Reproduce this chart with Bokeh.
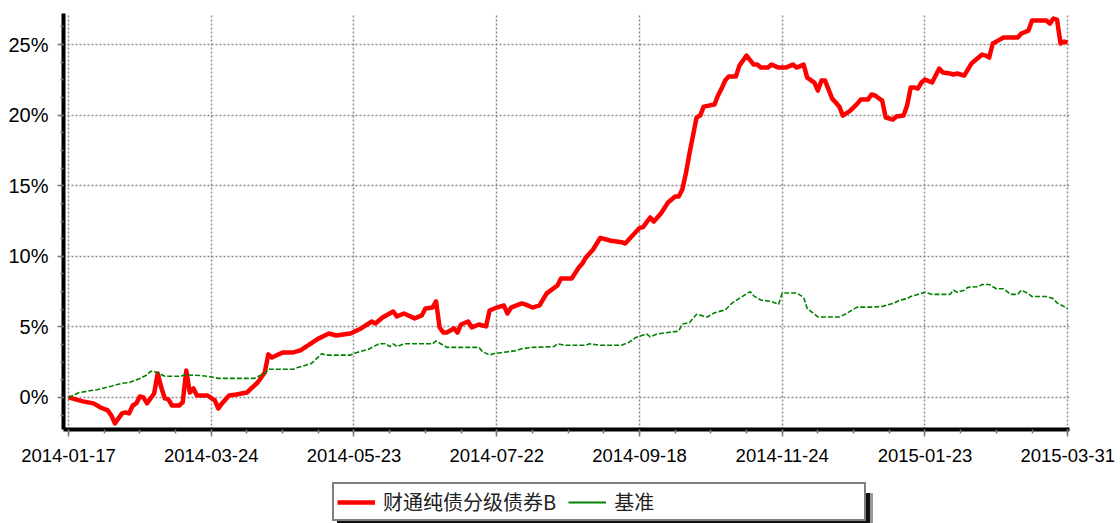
from bokeh.plotting import figure
from bokeh.models import (Range1d, FixedTicker, PrintfTickFormatter, Legend,
                          LegendItem)
from bokeh.layouts import column
from bokeh.embed import file_html
from bokeh.resources import INLINE

# ---------------- data ----------------
tick_days = [0, 40, 80, 120, 160, 200, 240, 280]
tick_dates = ["2014-01-17", "2014-03-24", "2014-05-23", "2014-07-22",
              "2014-09-18", "2014-11-24", "2015-01-23", "2015-03-31"]

series_names = ["财通纯债分级债券B", "基准"]

fund_days = [0, 4, 7, 9, 11, 12, 13, 15, 16, 17, 18, 19, 20, 21, 22, 24, 25, 26, 27, 28,
             29, 31, 32, 33, 34, 35, 36, 39, 41, 42, 43, 45, 47, 50, 53, 55, 56, 57, 60, 63,
             65, 70, 73, 75, 79, 82, 85, 86, 88, 91, 92, 94, 97, 99, 100, 102, 103, 104, 105, 106,
             108, 109, 110, 112, 113, 115, 116, 117, 118, 120, 122, 123, 124, 127, 128, 130, 132, 134, 137, 138,
             141, 143, 144, 145, 147, 149, 152, 155, 156, 160, 161, 163, 164, 166, 168, 170, 171, 172, 173, 174,
             176, 177, 178, 181, 182, 183, 184, 185, 187, 188, 190, 192, 193, 194, 196, 197, 199, 201, 203, 204,
             206, 207, 209, 210, 211, 212, 214, 215, 216, 217, 219, 221, 222, 224, 225, 226, 228, 229, 231, 232,
             234, 235, 236, 237, 238, 239, 240, 242, 244, 245, 247, 248, 249, 250, 251, 253, 254, 256, 257, 258,
             259, 261, 262, 266, 267, 269, 270, 274, 275, 276, 277, 278, 279, 280]
fund_pct = [0.0, -0.28, -0.42, -0.71, -0.92, -1.27, -1.84, -1.13, -1.06, -1.13, -0.57, -0.42, 0.07, 0.0, -0.42, 0.28, 1.7, 0.7, -0.07, -0.14,
            -0.57, -0.57, -0.35, 1.9, 0.35, 0.64, 0.14, 0.14, -0.21, -0.78, -0.42, 0.14, 0.21, 0.35, 1.06, 1.77, 3.05, 2.83, 3.19, 3.19,
            3.33, 4.17, 4.53, 4.39, 4.53, 4.89, 5.38, 5.24, 5.67, 6.09, 5.74, 5.95, 5.6, 5.81, 6.3, 6.37, 6.8, 4.96, 4.6, 4.6,
            4.89, 4.6, 5.17, 5.38, 4.96, 5.17, 5.1, 5.03, 6.16, 6.37, 6.52, 5.95, 6.37, 6.66, 6.59, 6.37, 6.52, 7.37, 7.93, 8.43,
            8.43, 9.21, 9.49, 9.92, 10.48, 11.3, 11.1, 11.0, 10.9, 12.0, 12.07, 12.75, 12.46, 13.03, 13.81, 14.24, 14.24, 14.73, 15.86, 17.28,
            19.83, 19.97, 20.6, 20.75, 21.39, 21.88, 22.45, 22.73, 22.73, 23.51, 24.22, 23.58, 23.58, 23.37, 23.37, 23.58, 23.37, 23.37, 23.58, 23.37,
            23.58, 22.66, 22.31, 21.74, 22.45, 22.45, 21.17, 20.89, 20.6, 19.97, 20.3, 20.8, 21.1, 21.1, 21.46, 21.39, 21.03, 19.83, 19.69, 19.9,
            19.97, 20.68, 21.96, 21.96, 21.88, 22.31, 22.52, 22.31, 23.3, 23.02, 22.95, 22.88, 22.95, 22.88, 22.8, 23.65, 23.87, 24.29, 24.22, 24.08,
            25.07, 25.35, 25.5, 25.5, 25.78, 25.99, 26.7, 26.7, 26.49, 26.84, 26.77, 25.07, 25.21, 25.14]

bench_days = [0, 3, 8, 12, 15, 17, 20, 22, 23, 24, 27, 31, 33, 37, 39, 42, 52, 55, 56, 63,
              64, 68, 71, 72, 79, 81, 84, 87, 89, 90, 91, 92, 94, 102, 103, 105, 106, 115, 116, 118,
              119, 122, 125, 127, 130, 136, 137, 139, 145, 146, 149, 155, 157, 159, 162, 163, 165, 168, 171, 172,
              174, 176, 179, 181, 184, 186, 191, 192, 194, 197, 199, 200, 204, 206, 207, 210, 216, 218, 221, 225,
              228, 231, 233, 235, 236, 238, 240, 242, 247, 248, 249, 251, 252, 255, 256, 258, 260, 262, 264, 266,
              267, 269, 270, 274, 276, 277, 280]
bench_pct = [0.0, 0.35, 0.55, 0.8, 1.0, 1.06, 1.35, 1.6, 1.85, 1.85, 1.5, 1.5, 1.6, 1.55, 1.5, 1.35, 1.35, 1.7, 2.0, 2.0,
             2.1, 2.4, 3.1, 3.0, 3.0, 3.2, 3.4, 3.8, 3.8, 3.6, 3.8, 3.6, 3.8, 3.8, 4.0, 3.7, 3.55, 3.55, 3.25, 3.0,
             3.1, 3.2, 3.3, 3.45, 3.55, 3.6, 3.8, 3.7, 3.7, 3.8, 3.7, 3.7, 3.9, 4.25, 4.5, 4.3, 4.5, 4.6, 4.7, 5.2,
             5.3, 5.9, 5.7, 6.0, 6.2, 6.7, 7.5, 7.2, 6.9, 6.8, 6.6, 7.4, 7.4, 7.1, 6.3, 5.7, 5.7, 5.95, 6.4, 6.4,
             6.45, 6.65, 6.9, 7.0, 7.15, 7.3, 7.45, 7.3, 7.3, 7.6, 7.45, 7.6, 7.8, 7.85, 8.0, 8.0, 7.7, 7.7, 7.3, 7.3,
             7.6, 7.35, 7.15, 7.15, 7.0, 6.7, 6.3]

y_ticks = [0, 5, 10, 15, 20, 25]

# ---------------- main figure ----------------
RED = "#ff0000"
GREEN = "#008000"
GRID = "#8a8a8a"
TICKC = "#777777"

W = 1120
H1 = 480
H2 = 43
FRAME_LEFT = 63

p = figure(width=W, height=H1, output_backend="svg", toolbar_location=None,
           x_range=Range1d(-1.4, 280.5), y_range=Range1d(-2.27, 27.2),
           min_border_left=FRAME_LEFT, min_border_right=W - 1069, min_border_top=13,
           min_border_bottom=H1 - 429)
p.outline_line_color = None
p.background_fill_color = "white"
p.border_fill_color = "white"

p.line(fund_days, fund_pct, line_color=RED, line_width=4.5, line_join="round")
p.line(bench_days, bench_pct, line_color=GREEN, line_width=1.6, line_dash="5 2")

xa = p.xaxis[0]
xa.ticker = FixedTicker(ticks=tick_days, minor_ticks=list(range(0, 281, 10)))
xa.major_label_overrides = {d: s for d, s in zip(tick_days, tick_dates)}
xa.axis_line_width = 4
xa.axis_line_color = "black"
xa.major_tick_out = 7
xa.major_tick_in = 0
xa.minor_tick_out = 4
xa.minor_tick_in = 0
xa.major_tick_line_color = TICKC
xa.minor_tick_line_color = TICKC
xa.major_tick_line_width = 1.5
xa.minor_tick_line_width = 1.5
xa.major_label_text_font = "Liberation Sans"
xa.major_label_text_font_size = "18.5px"
xa.major_label_text_color = "black"
xa.major_label_standoff = 12

ya = p.yaxis[0]
ya.ticker = FixedTicker(ticks=y_ticks, minor_ticks=[-1.25 + 1.25 * k for k in range(23)])
ya.formatter = PrintfTickFormatter(format="%d%%")
ya.axis_line_width = 4
ya.axis_line_color = "black"
ya.major_tick_out = 6
ya.major_tick_in = 0
ya.minor_tick_out = 3
ya.minor_tick_in = 0
ya.major_tick_line_color = TICKC
ya.minor_tick_line_color = TICKC
ya.major_tick_line_width = 1.5
ya.minor_tick_line_width = 1.5
ya.major_label_text_font = "Liberation Sans"
ya.major_label_text_font_size = "20px"
ya.major_label_text_color = "black"
ya.major_label_standoff = 9

for g in (p.xgrid[0], p.ygrid[0]):
    g.grid_line_color = GRID
    g.grid_line_dash = "2 2"
    g.grid_line_width = 1.5

# ---------------- legend strip ----------------
p2 = figure(width=W, height=H2, output_backend="svg", toolbar_location=None,
            x_range=Range1d(0, 1), y_range=Range1d(0, 1),
            x_axis_location=None, y_axis_location=None, min_border=0)
p2.outline_line_color = None
p2.grid.visible = False
p2.background_fill_color = "white"
p2.border_fill_color = "white"

# proxy renderers (points lie outside the strip's view, only used for legend glyphs)
off = [-10, -9]
spacer_r = p2.line(off, off, line_alpha=0)
leg_red = p2.line(off, off, line_color=RED, line_width=4.5)
leg_green = p2.line(off, off, line_color=GREEN, line_width=2)

BOX_X = 332 - FRAME_LEFT   # frame of the strip is aligned with the main frame


def shadow_legend(dx, color):
    return Legend(items=[LegendItem(label=" ", renderers=[spacer_r])],
                  location=(BOX_X + dx, -5), orientation="horizontal",
                  padding=0, margin=0, spacing=0, glyph_width=1, glyph_height=35,
                  label_width=532, label_height=35, label_standoff=0,
                  label_text_font_size="4px",
                  border_line_color=None,
                  background_fill_color=color, background_fill_alpha=1)


p2.add_layout(shadow_legend(8, "#9a9a9a"), "center")
p2.add_layout(shadow_legend(5, "#111111"), "center")

legend = Legend(items=[LegendItem(label=series_names[0], renderers=[leg_red]),
                       LegendItem(label=series_names[1], renderers=[leg_green]),
                       LegendItem(label="\u3000" * 7 + "  ", renderers=[spacer_r])],
                location=(BOX_X, 2), orientation="horizontal",
                padding=3, margin=0, spacing=12, glyph_width=38, glyph_height=20,
                label_height=20, label_standoff=8,
                label_text_font="Noto Sans CJK SC", label_text_font_size="20px",
                label_text_color="#222222",
                border_line_color="black", border_line_width=2,
                background_fill_color="white", background_fill_alpha=1)
p2.add_layout(legend, "center")

layout = column(p, p2, spacing=0)
open("out.html", "w").write(file_html(layout, INLINE))
